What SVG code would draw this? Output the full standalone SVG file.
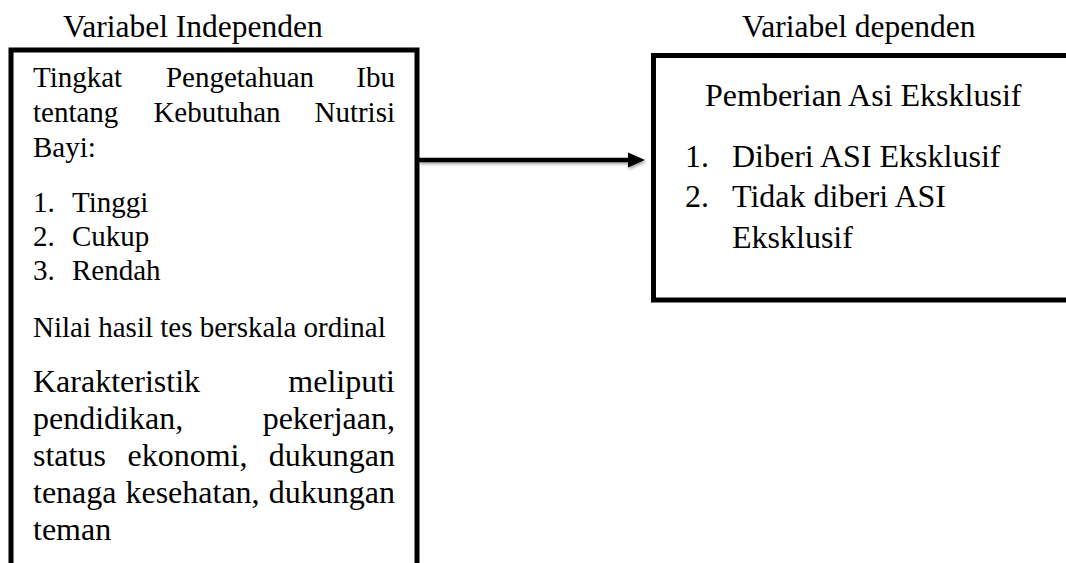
<svg xmlns="http://www.w3.org/2000/svg" width="1066" height="563" viewBox="0 0 1066 563">
  <defs>
    <style>
      .t { font-family: "Liberation Serif", "Times New Roman", serif; fill: #000; }
      .title { font-size: 31.5px; }
      .body { font-size: 29px; }
      .big { font-size: 32px; }
      .box { fill: none; stroke: #000; stroke-width: 5; }
      .end { text-anchor: end; }
      .mid { text-anchor: middle; }
    </style>
    <filter id="shadow" x="-5%" y="-50%" width="110%" height="200%">
      <feDropShadow dx="1" dy="2" stdDeviation="1.5" flood-color="#000" flood-opacity="0.35"/>
    </filter>
    <marker id="arrowhead" markerWidth="4" markerHeight="4" refX="0" refY="2" orient="auto" markerUnits="strokeWidth">
      <path d="M0,0 L4,2 L0,4 Z" fill="#000"/>
    </marker>
  </defs>
  <rect width="1066" height="563" fill="#fff"/>

  <text class="t title" x="63" y="37">Variabel Independen</text>
  <text class="t title" x="742" y="37">Variabel dependen</text>

  <g id="independen">
    <path class="box" d="M11,575 V50 H417 V575"/>
    <text class="t body" x="33" y="87">Tingkat</text>
    <text class="t body mid" x="240" y="87">Pengetahuan</text>
    <text class="t body end" x="395" y="87">Ibu</text>
    <text class="t body" x="33" y="122">tentang</text>
    <text class="t body mid" x="217" y="122">Kebutuhan</text>
    <text class="t body end" x="395" y="122">Nutrisi</text>
    <text class="t body" x="33" y="157">Bayi:</text>

    <text class="t body" x="33" y="212">1.</text>
    <text class="t body" x="72" y="212">Tinggi</text>
    <text class="t body" x="33" y="246">2.</text>
    <text class="t body" x="72" y="246">Cukup</text>
    <text class="t body" x="33" y="280">3.</text>
    <text class="t body" x="72" y="280">Rendah</text>

    <text class="t body" x="33" y="337">Nilai hasil tes berskala ordinal</text>

    <text class="t big" x="33" y="392">Karakteristik</text>
    <text class="t big end" x="395" y="392">meliputi</text>
    <text class="t big" x="33" y="429">pendidikan,</text>
    <text class="t big end" x="395" y="429">pekerjaan,</text>
    <text class="t big" x="33" y="466">status</text>
    <text class="t big mid" x="187.5" y="466">ekonomi,</text>
    <text class="t big end" x="395" y="466">dukungan</text>
    <text class="t big" x="33" y="503">tenaga</text>
    <text class="t big mid" x="192.5" y="503">kesehatan,</text>
    <text class="t big end" x="395" y="503">dukungan</text>
    <text class="t big" x="33" y="540">teman</text>
  </g>

  <g id="dependen">
    <path class="box" d="M1075,55.5 H653.5 V300 H1075"/>
    <text class="t big" x="705" y="106">Pemberian Asi Eksklusif</text>
    <text class="t big" x="685" y="167">1.</text>
    <text class="t big" x="732" y="167">Diberi ASI Eksklusif</text>
    <text class="t big" x="685" y="207">2.</text>
    <text class="t big" x="732" y="207">Tidak diberi ASI</text>
    <text class="t big" x="732" y="248">Eksklusif</text>
  </g>

  <g id="connectors" filter="url(#shadow)">
    <line x1="419" y1="160" x2="629" y2="160" stroke="#000" stroke-width="4.5"/>
    <path d="M628,152.5 L645,160 L628,167.5 Z" fill="#000"/>
  </g>
</svg>
